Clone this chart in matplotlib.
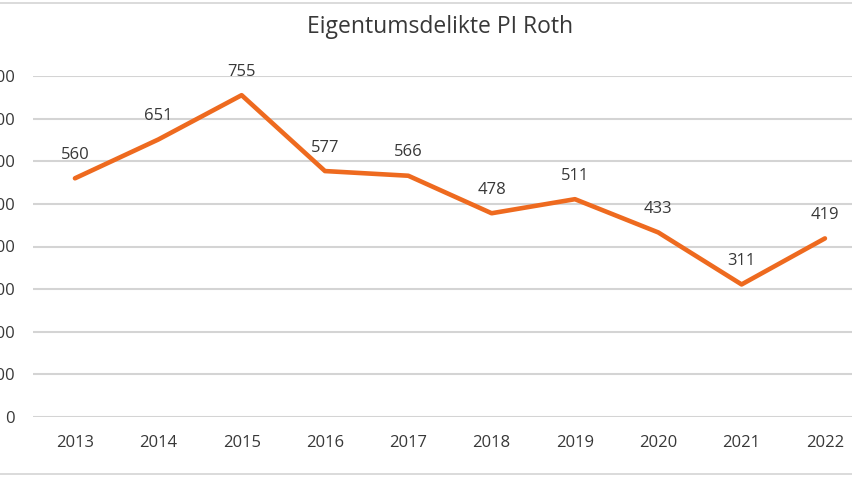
import matplotlib
matplotlib.use("Agg")
import matplotlib.pyplot as plt
from matplotlib.lines import Line2D

years = ["2013", "2014", "2015", "2016", "2017", "2018", "2019", "2020", "2021", "2022"]
cases = [560, 651, 755, 577, 566, 478, 511, 433, 311, 419]
y_ticks = [0, 100, 200, 300, 400, 500, 600, 700, 800]

plt.rcParams["font.family"] = ["Open Sans", "DejaVu Sans"]

fig = plt.figure(figsize=(8.53, 4.8), dpi=100)
ax = fig.add_axes([33.3 / 853, 1 - 417 / 480, 833.3 / 853, 341 / 480])

x = list(range(len(years)))
ax.plot(x, cases, color="#EE6A1F", linewidth=3.3, solid_capstyle="round", zorder=3)
for xi, v in zip(x, cases):
    ax.annotate(str(v), (xi, v), xytext=(0, 11), textcoords="offset points",
                ha="center", va="bottom", fontsize=12, color="#383838")

ax.set_xlim(-0.5, len(years) - 0.5)
ax.set_ylim(0, 800)
ax.set_yticks(y_ticks)
ax.set_xticks(x)
ax.set_xticklabels(years)
ax.grid(axis="y", color="#D4D4D4", linewidth=1.5)
ax.set_axisbelow(True)
for s in ax.spines.values():
    s.set_visible(False)
ax.tick_params(axis="y", length=0, pad=13, labelsize=12, labelcolor="#383838")
ax.tick_params(axis="x", length=0, pad=13, labelsize=12, labelcolor="#383838")

fig.text(440 / 853, 1 - 27 / 480, "Eigentumsdelikte PI Roth", ha="center", va="center",
         fontsize=16.5, color="#383838")

# outer chart frame (top and bottom edges)
fig.add_artist(Line2D([0, 1], [1 - 3 / 480, 1 - 3 / 480], transform=fig.transFigure,
                      color="#D4D4D4", linewidth=1.2))
fig.add_artist(Line2D([0, 1], [1 - 474 / 480, 1 - 474 / 480], transform=fig.transFigure,
                      color="#D4D4D4", linewidth=1.2))

fig.savefig("out.png", dpi=100)
